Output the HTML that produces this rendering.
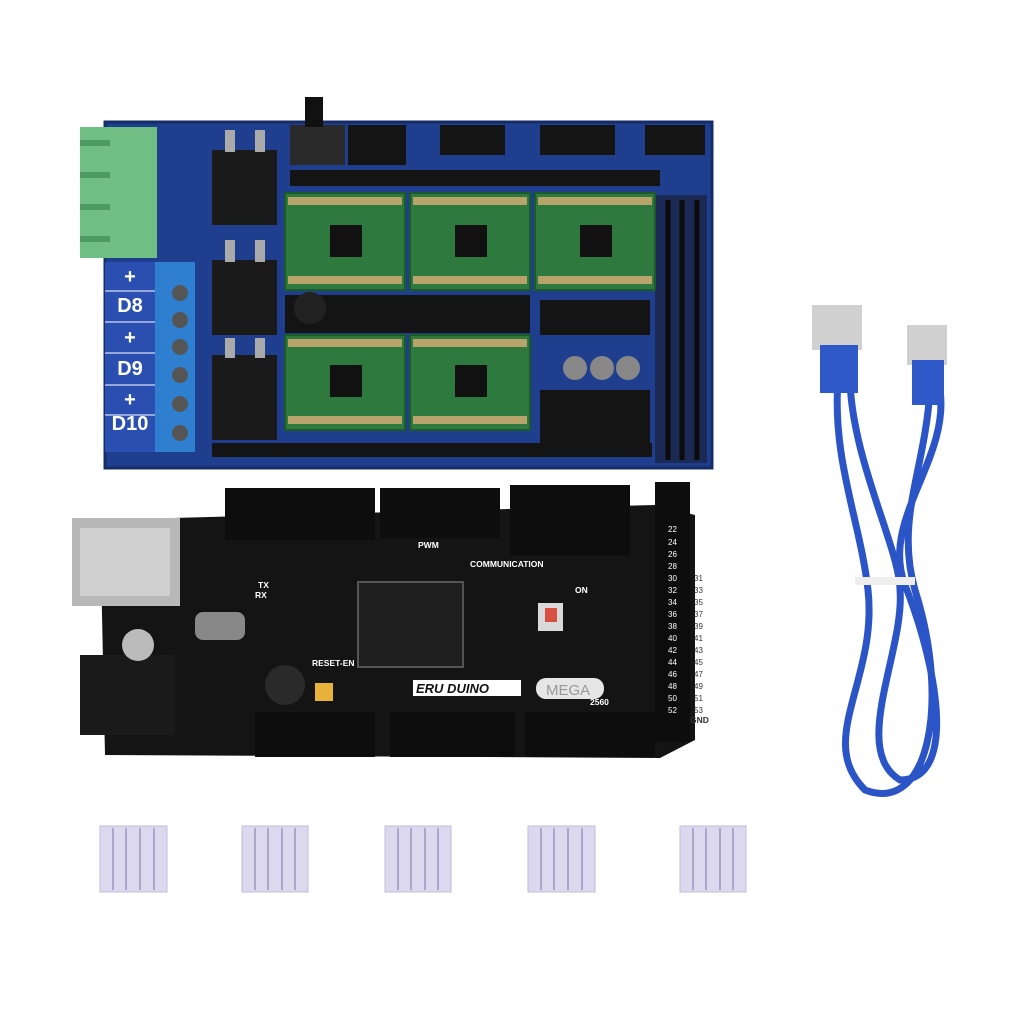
<!DOCTYPE html>
<html><head><style>body{margin:0;background:#fff}svg{display:block}text{font-family:"Liberation Sans",sans-serif}</style></head><body>
<svg width="1024" height="1024" viewBox="0 0 1024 1024" xmlns="http://www.w3.org/2000/svg">
<rect width="1024" height="1024" fill="#fff"/>
<!-- RAMPS board -->
<rect x="105" y="122" width="607" height="346" fill="#1f3f8e"/>
<rect x="105" y="122" width="607" height="346" fill="none" stroke="#152c66" stroke-width="3"/>
<g fill="#141414">
<rect x="348" y="125" width="58" height="40"/><rect x="440" y="125" width="65" height="30"/>
<rect x="540" y="125" width="75" height="30"/><rect x="645" y="125" width="60" height="30"/>
<rect x="290" y="170" width="370" height="16"/>
<rect x="540" y="390" width="110" height="60"/>
<rect x="285" y="295" width="245" height="38"/>
<rect x="540" y="300" width="110" height="35"/>
<rect x="212" y="443" width="440" height="14"/>
</g>
<rect x="655" y="195" width="52" height="268" fill="#1b2a55"/>
<g stroke="#0c0c0c" stroke-width="5">
<line x1="668" y1="200" x2="668" y2="460"/><line x1="682" y1="200" x2="682" y2="460"/><line x1="697" y1="200" x2="697" y2="460"/>
</g>
<rect x="290" y="125" width="55" height="40" fill="#2a2a2a"/><rect x="305" y="97" width="18" height="30" fill="#111"/>
<g fill="#1a1a1a"><rect x="212" y="150" width="65" height="75"/><rect x="212" y="260" width="65" height="75"/><rect x="212" y="355" width="65" height="85"/></g>
<g fill="#aaa"><rect x="225" y="130" width="10" height="22"/><rect x="255" y="130" width="10" height="22"/><rect x="225" y="240" width="10" height="22"/><rect x="255" y="240" width="10" height="22"/><rect x="225" y="338" width="10" height="20"/><rect x="255" y="338" width="10" height="20"/></g>
<g fill="#2e7a3e" stroke="#1c5a2a" stroke-width="2">
<rect x="285" y="193" width="120" height="97"/><rect x="410" y="193" width="120" height="97"/><rect x="535" y="193" width="120" height="97"/>
<rect x="285" y="335" width="120" height="95"/><rect x="410" y="335" width="120" height="95"/>
</g>
<g fill="#111"><rect x="330" y="225" width="32" height="32"/><rect x="455" y="225" width="32" height="32"/><rect x="580" y="225" width="32" height="32"/><rect x="330" y="365" width="32" height="32"/><rect x="455" y="365" width="32" height="32"/></g>
<g fill="#b8a46a"><rect x="288" y="197" width="114" height="8"/><rect x="413" y="197" width="114" height="8"/><rect x="538" y="197" width="114" height="8"/><rect x="288" y="276" width="114" height="8"/><rect x="413" y="276" width="114" height="8"/><rect x="538" y="276" width="114" height="8"/><rect x="288" y="339" width="114" height="8"/><rect x="413" y="339" width="114" height="8"/><rect x="288" y="416" width="114" height="8"/><rect x="413" y="416" width="114" height="8"/></g>
<circle cx="310" cy="308" r="16" fill="#222"/>
<g fill="#888"><circle cx="575" cy="368" r="12"/><circle cx="602" cy="368" r="12"/><circle cx="628" cy="368" r="12"/></g>
<rect x="80" y="127" width="77" height="131" fill="#6fbf85"/>
<g fill="#4e9a63"><rect x="80" y="140" width="30" height="6"/><rect x="80" y="172" width="30" height="6"/><rect x="80" y="204" width="30" height="6"/><rect x="80" y="236" width="30" height="6"/></g>
<rect x="105" y="262" width="50" height="190" fill="#2a4fb0"/>
<g fill="#fff" font-weight="bold" font-size="20" text-anchor="middle">
<text x="130" y="283">+</text><text x="130" y="312">D8</text><text x="130" y="344">+</text><text x="130" y="375">D9</text><text x="130" y="406">+</text><text x="130" y="430">D10</text></g>
<g stroke="#fff" stroke-width="1"><line x1="105" y1="291" x2="155" y2="291"/><line x1="105" y1="322" x2="155" y2="322"/><line x1="105" y1="353" x2="155" y2="353"/><line x1="105" y1="385" x2="155" y2="385"/><line x1="105" y1="415" x2="155" y2="415"/></g>
<rect x="155" y="262" width="40" height="190" fill="#2f7fd0"/>
<g fill="#555"><circle cx="180" cy="293" r="8"/><circle cx="180" cy="320" r="8"/><circle cx="180" cy="347" r="8"/><circle cx="180" cy="375" r="8"/><circle cx="180" cy="404" r="8"/><circle cx="180" cy="433" r="8"/></g>

<!-- Arduino Mega -->
<path d="M100 520 L655 505 L695 515 L695 740 L660 758 L105 755 Z" fill="#141414"/>
<rect x="225" y="488" width="150" height="52" fill="#0d0d0d"/><rect x="380" y="488" width="120" height="50" fill="#0d0d0d"/><rect x="510" y="485" width="120" height="70" fill="#0d0d0d"/>
<rect x="655" y="482" width="35" height="260" fill="#0d0d0d"/>
<rect x="255" y="712" width="120" height="45" fill="#0d0d0d"/><rect x="390" y="712" width="125" height="45" fill="#0d0d0d"/><rect x="525" y="712" width="130" height="45" fill="#0d0d0d"/>
<rect x="72" y="518" width="108" height="88" fill="#b8b8b8"/><rect x="80" y="528" width="90" height="68" fill="#cfcfcf"/>
<rect x="80" y="655" width="95" height="80" fill="#1a1a1a"/>
<circle cx="138" cy="645" r="16" fill="#bbb"/>
<rect x="358" y="582" width="105" height="85" fill="#1f1f1f" stroke="#555" stroke-width="2"/>
<rect x="195" y="612" width="50" height="28" rx="8" fill="#888"/>
<circle cx="285" cy="685" r="20" fill="#2a2a2a"/>
<rect x="315" y="683" width="18" height="18" fill="#e8b23a"/>
<rect x="538" y="603" width="25" height="28" fill="#d9d9d9"/><rect x="545" y="608" width="12" height="14" fill="#d8503f"/>
<g fill="#fff" font-size="8.5" font-weight="bold">
<text x="418" y="548">PWM</text><text x="470" y="567">COMMUNICATION</text>
<text x="575" y="593">ON</text><text x="312" y="666">RESET-EN</text>
<text x="590" y="705">2560</text><text x="690" y="723" fill="#333">GND</text>
<text x="258" y="588">TX</text><text x="255" y="598">RX</text></g>
<rect x="413" y="680" width="108" height="16" fill="#fff"/>
<text x="416" y="693" font-size="13" font-weight="bold" font-style="italic" fill="#111">ERU DUINO</text>
<rect x="536" y="678" width="68" height="21" rx="10" fill="#e6e6e6"/>
<text x="546" y="695" font-size="15" fill="#999">MEGA</text>
<g fill="#fff" font-size="8">
<text x="668" y="532">22</text><text x="668" y="545">24</text><text x="668" y="557">26</text><text x="668" y="569">28</text><text x="668" y="581">30</text><text x="668" y="593">32</text><text x="668" y="605">34</text><text x="668" y="617">36</text><text x="668" y="629">38</text><text x="668" y="641">40</text><text x="668" y="653">42</text><text x="668" y="665">44</text><text x="668" y="677">46</text><text x="668" y="689">48</text><text x="668" y="701">50</text><text x="668" y="713">52</text>
<text x="694" y="581" fill="#333">31</text><text x="694" y="593" fill="#333">33</text><text x="694" y="605" fill="#333">35</text><text x="694" y="617" fill="#333">37</text><text x="694" y="629" fill="#333">39</text><text x="694" y="641" fill="#333">41</text><text x="694" y="653" fill="#333">43</text><text x="694" y="665" fill="#333">45</text><text x="694" y="677" fill="#333">47</text><text x="694" y="689" fill="#333">49</text><text x="694" y="701" fill="#333">51</text><text x="694" y="713" fill="#333">53</text>
</g>
<!-- USB cable -->
<g fill="none" stroke="#2b55c6" stroke-width="7">
<path d="M838 380 C832 460 860 520 868 590 C878 680 815 740 865 790 C930 815 950 700 915 590 C895 520 925 470 930 390"/>
<path d="M850 380 C852 460 900 550 900 590 C905 650 850 750 900 780 C960 780 935 660 905 585 C880 520 950 460 940 390"/>
</g>
<rect x="812" y="305" width="50" height="45" fill="#d0d0d0"/><rect x="820" y="345" width="38" height="48" fill="#2f58c8"/>
<rect x="907" y="325" width="40" height="40" fill="#d0d0d0"/><rect x="912" y="360" width="32" height="45" fill="#2f58c8"/>
<rect x="855" y="577" width="60" height="8" fill="#eee"/>
<!-- heatsinks -->
<g fill="#dcd9ee" stroke="#c0bcdc">
<rect x="100" y="826" width="67" height="66"/><rect x="242" y="826" width="66" height="66"/><rect x="385" y="826" width="66" height="66"/><rect x="528" y="826" width="67" height="66"/><rect x="680" y="826" width="66" height="66"/>
</g>
<g stroke="#aaa6c8" stroke-width="2">
<path d="M113 828v62M126 828v62M140 828v62M154 828v62"/>
<path d="M255 828v62M268 828v62M282 828v62M295 828v62"/>
<path d="M398 828v62M411 828v62M425 828v62M438 828v62"/>
<path d="M541 828v62M554 828v62M568 828v62M582 828v62"/>
<path d="M693 828v62M706 828v62M720 828v62M733 828v62"/>
</g>
</svg>
</body></html>
